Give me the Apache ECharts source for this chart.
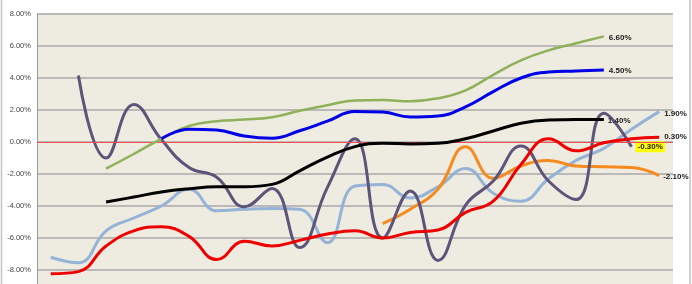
<!DOCTYPE html>
<html>
<head>
<meta charset="utf-8">
<script src="https://cdn.jsdelivr.net/npm/echarts@6/dist/echarts.min.js"></script>
<style>
html,body{margin:0;padding:0;background:#fff;overflow:hidden;}
#c{width:692px;height:320px;}
</style>
</head>
<body>
<div id="c"></div>
<script>
var categories = ['1','2','3','4','5','6','7','8','9','10','11','12','13','14','15','16','17','18','19','20','21','22','23'];
var yTicks = [-10, -8, -6, -4, -2, 0, 2, 4, 6, 8];

var lightBlue = [-7.2, -7.55, -5.55, -4.75, -4.0, -2.95, -4.3, -4.2, -4.15, -4.2, -6.3, -2.75, -2.65, -3.5, -2.8, -1.65, -3.2, -3.7, -2.3, -1.15, -0.4, 0.8, 1.9];
var orange = [null, null, null, null, null, null, null, null, null, null, null, null, -5.1, -4.2, -2.95, -0.3, -2.27, -1.5, -1.15, -1.5, -1.55, -1.6, -2.1];
var purple = [null, 4.15, -1.0, 2.35, 0.15, -1.6, -2.2, -4.05, -2.9, -6.6, -2.85, 0.2, -6.0, -3.06, -7.4, -3.94, -2.44, -0.25, -2.44, -3.6, 1.8, -0.3, null];
var green = [null, null, -1.67, -0.75, 0.2, 1.0, 1.3, 1.4, 1.55, 1.95, 2.3, 2.6, 2.62, 2.55, 2.73, 3.23, 4.2, 5.1, 5.73, 6.17, 6.6, null, null];
var blue = [null, null, null, null, 0.2, 0.8, 0.75, 0.37, 0.23, 0.7, 1.3, 1.9, 1.87, 1.56, 1.62, 2.2, 3.15, 4.0, 4.38, 4.44, 4.5, null, null];
var black = [null, null, -3.75, -3.44, -3.12, -2.92, -2.8, -2.8, -2.65, -1.8, -0.94, -0.29, -0.08, -0.12, -0.08, 0.2, 0.69, 1.17, 1.37, 1.4, 1.4, null, null];
var red = [-8.23, -8.1, -6.5, -5.55, -5.3, -5.9, -7.35, -6.2, -6.5, -6.15, -5.75, -5.55, -6.0, -5.65, -5.5, -4.4, -3.7, -1.4, 0.2, -0.55, -0.05, 0.2, 0.3];

var FONT = 'Liberation Sans';

function lastValue(arr) {
  var v = null;
  for (var i = 0; i < arr.length; i++) if (arr[i] !== null) v = arr[i];
  return v;
}

function mkSeries(name, arr, color, width, extra, z) {
  var lab = {
    show: true, distance: 5,
    formatter: function () { return lastValue(arr).toFixed(2) + '%'; },
    fontFamily: FONT, fontSize: 8, fontWeight: 'bold', color: '#1a1a1a'
  };
  if (extra) for (var k in extra) lab[k] = extra[k];
  return {
    name: name, type: 'line', smooth: 0.45, symbol: 'none', showSymbol: false,
    connectNulls: false, z: z || 2,
    lineStyle: { color: color, width: width },
    itemStyle: { color: color },
    endLabel: lab,
    data: arr.map(function (v) { return v === null ? '-' : v; })
  };
}

var chart = echarts.init(document.getElementById('c'), null, { renderer: 'canvas' });
var series = [
  mkSeries('lightBlue', lightBlue, '#95B3D7', 3, { offset: [0, 2] }, 2),
  mkSeries('orange', orange, '#F68A1E', 3, { offset: [-1, 1] }, 3),
  mkSeries('purple', purple, '#5E5479', 3, { backgroundColor: '#FFFF00', padding: [2, 2, 1, 2], distance: 4 }, 4),
  mkSeries('green', green, '#8FB15A', 2.5, { offset: [0, 1] }, 5),
  mkSeries('blue', blue, '#0000E6', 3, { offset: [0, 1] }, 6),
  mkSeries('black', black, '#000000', 3, { offset: [-1, 1] }, 7),
  mkSeries('red', red, '#EE0000', 3, {}, 8)
];
series[0].markLine = {
  silent: true, symbol: 'none', label: { show: false },
  lineStyle: { color: '#F05050', width: 1, type: 'solid' },
  data: [{ yAxis: 0 }]
};

chart.setOption({
  animation: false,
  backgroundColor: '#ffffff',
  grid: {
    left: 36, top: 14, width: 637, height: 288,
    show: true, backgroundColor: '#EEECE1', borderWidth: 0
  },
  graphic: [{
    type: 'rect', z: -1, silent: true,
    shape: { x: 1.5, y: -10, width: 688.5, height: 340 },
    style: { fill: 'none', stroke: '#C4C4C4', lineWidth: 1.5 }
  }],
  xAxis: {
    type: 'category', data: categories, boundaryGap: true,
    axisLine: { show: false }, axisTick: { show: false }, axisLabel: { show: false },
    splitLine: { show: false }
  },
  yAxis: {
    type: 'value', min: yTicks[0], max: yTicks[yTicks.length - 1], interval: 2,
    axisLine: { show: true, lineStyle: { color: '#9A9A9A', width: 1 } },
    axisTick: { show: false },
    axisLabel: {
      fontFamily: FONT, fontSize: 7.5, color: '#444444', margin: 6,
      formatter: function (v) { return v.toFixed(2) + '%'; }
    },
    splitLine: { show: true, lineStyle: { color: '#A8A8A8', width: 1.5 } }
  },
  series: series
});
</script>
</body>
</html>
